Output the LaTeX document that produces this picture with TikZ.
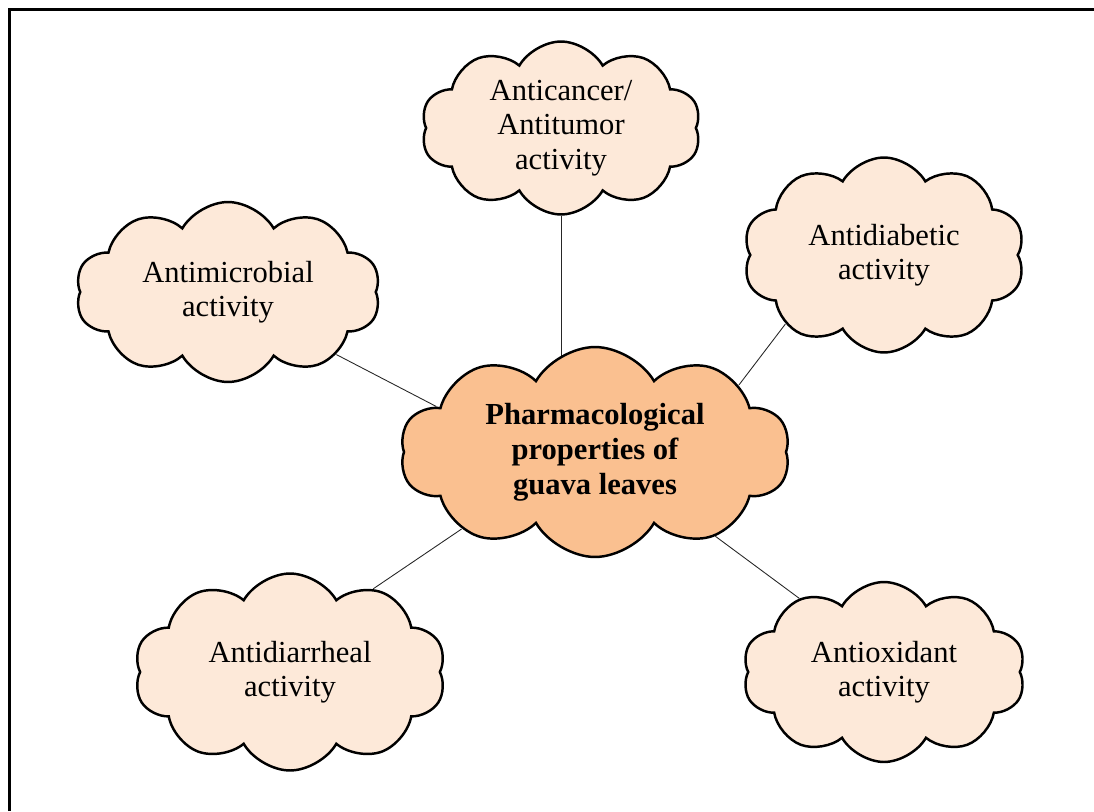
\documentclass[tikz,border=0pt]{standalone}
\usepackage{fontspec}
\setmainfont{Liberation Serif}
\usetikzlibrary{shapes.symbols,backgrounds}
\definecolor{peachlight}{HTML}{FDE9D9}
\definecolor{peachdark}{HTML}{FAC090}

\begin{document}
\begin{tikzpicture}[
			x=0.02cm, y=-0.02cm,
			activity/.style={
				cloud, cloud puffs=10, cloud puff arc=120,
				cloud ignores aspect,
				draw, line width=1.4pt, fill=peachlight,
				align=center, inner sep=0pt,
				font=\fontsize{17.4}{19.6}\selectfont
			},
			core/.style={activity, fill=peachdark,
				font=\fontsize{17.4}{19.8}\selectfont\bfseries},
			link/.style={draw, line width=0.5pt, black!85}
			]
			\useasboundingbox (0,0) rectangle (1094,811);
			\draw[line width=2.2pt] (9.5,811) -- (9.5,9.5) -- (1094,9.5);
			
			\node[core, minimum width=7.8cm, minimum height=4.2cm] (centre) at (595,452) {Pharmacological\\properties of\\guava leaves};
			
			\node[activity, minimum width=5.6cm, minimum height=3.46cm] (cancer) at (561,128) {Anticancer/\\Antitumor\\activity};
			\node[activity, minimum width=6.1cm, minimum height=3.6cm] (microb) at (228,292) {Antimicrobial\\activity};
			\node[activity, minimum width=5.64cm, minimum height=3.9cm] (diab) at (884,255) {Antidiabetic\\activity};
			\node[activity, minimum width=6.24cm, minimum height=3.94cm] (diarr) at (290,672) {Antidiarrheal\\activity};
			\node[activity, minimum width=5.66cm, minimum height=3.6cm] (oxid) at (884,672) {Antioxidant\\activity};
			
			\begin{scope}[on background layer]
				\draw[link] (cancer) -- (cancer |- centre);
				\draw[link] (microb.-30) -- (centre.164);
				\draw[link] (diab.-145) -- (centre.25);
				\draw[link] (diarr.45) -- (centre.-150);
				\draw[link] (oxid.139) -- (centre.-35);
			\end{scope}
			
		\end{tikzpicture}
\end{document}
